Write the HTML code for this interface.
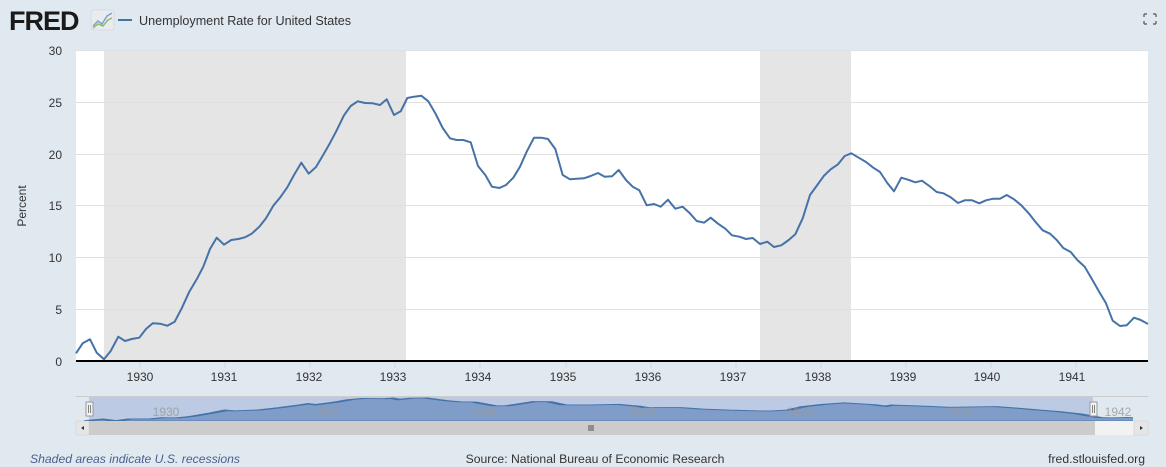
<!DOCTYPE html>
<html><head><meta charset="utf-8"><style>
body{margin:0;width:1166px;height:467px;background:#e1e9f0;font-family:"Liberation Sans",sans-serif;overflow:hidden;position:relative}
svg{position:absolute;left:0;top:0}
</style></head><body>
<svg width="1166" height="467" viewBox="0 0 1166 467" xmlns="http://www.w3.org/2000/svg" font-family="Liberation Sans, sans-serif">
<defs><clipPath id="nc"><rect x="76" y="396" width="1057" height="26"/></clipPath></defs>
<text x="9" y="30" font-size="27" font-weight="bold" fill="#1a1a1a" letter-spacing="-1">FRED</text>
<rect x="91" y="10" width="23" height="20" rx="2" fill="#e8ecef" stroke="#ccc" stroke-width="0.5"/>
<polyline points="93,26 98,21 102,24 107,16 112,13" fill="none" stroke="#7fa0c8" stroke-width="1.5"/>
<polyline points="93,28 98,24 103,26 108,20 112,18" fill="none" stroke="#8cbf6a" stroke-width="1.5"/>
<line x1="118" y1="20" x2="132" y2="20" stroke="#4572a7" stroke-width="2"/>
<text x="139" y="25" font-size="12.6" fill="#333">Unemployment Rate for United States</text>
<g stroke="#555" stroke-width="1.2" fill="none"><path d="M1144 14h3M1144 14v3M1156 14h-3M1156 14v3M1144 24h3M1144 24v-3M1156 24h-3M1156 24v-3"/></g>
<rect x="76" y="50" width="1072" height="311" fill="#fff"/>
<rect x="104" y="50" width="302" height="311" fill="#e5e5e5"/>
<rect x="760" y="50" width="91" height="311" fill="#e5e5e5"/>
<g stroke="#e0e0e0" stroke-width="1"><line x1="76" x2="1148" y1="50.5" y2="50.5"/><line x1="76" x2="1148" y1="102.5" y2="102.5"/><line x1="76" x2="1148" y1="154.5" y2="154.5"/><line x1="76" x2="1148" y1="205.5" y2="205.5"/><line x1="76" x2="1148" y1="257.5" y2="257.5"/><line x1="76" x2="1148" y1="309.5" y2="309.5"/></g>
<g font-size="12" fill="#333" text-anchor="end"><text x="62" y="55">30</text><text x="62" y="107">25</text><text x="62" y="159">20</text><text x="62" y="210">15</text><text x="62" y="262">10</text><text x="62" y="314">5</text><text x="62" y="366">0</text></g>
<text transform="translate(26,206) rotate(-90)" font-size="12" fill="#333" text-anchor="middle">Percent</text>
<polyline fill="none" stroke="#4572a7" stroke-width="2" stroke-linejoin="round" points="76,353.3 82.7,343.3 90,339.3 96.7,352.7 104,359.3 110.7,351 118.3,336.7 125,341 131.7,339 139.3,337.7 146,329 152.7,323.3 160,323.7 167.3,325.7 174.7,321.7 181.7,308.3 189.3,291.7 196.7,279.3 203.3,266.7 210,249 216.7,237.7 224,244.7 231.3,240 238.3,239 245,237.3 251.7,233.7 259.3,226.7 266,218.3 273.3,205.7 280,197.7 287.3,187.3 294,175 301.3,162.7 308.7,173.7 316,167 322.7,155.7 329.3,144.3 336,131.7 344,115.3 350.7,106 357.7,101.3 365,103 372.7,103.3 380,105 386.7,99.3 394,115 400.7,111.3 407.3,98 414,96.7 421.3,95.7 428.3,101.3 435.7,114 442.7,128 450,138.3 456.7,140 463.3,140 470.7,142.3 478,166 485.3,175 492,186.7 499.3,188 506,185 513.3,177.7 520,166.7 526.7,151.7 534,137.7 541.3,137.7 548,139 555.3,149 562.7,175 570,179.3 576.7,178.7 584,178.3 590.7,176 598,173 604.7,176.7 612,176.3 618.7,170 626,180 632.7,186.7 639.3,190.3 646.7,205.3 654,204 660.7,206.7 668,199.7 675.3,208.7 682.7,206.7 689.3,212.7 696.7,221 704,222.7 710.7,217.7 718,223.7 725.3,228.7 732,235.3 739.3,236.7 746,239 752.7,238 760,244 767.3,241.7 774,247 781.3,245.3 788.7,240 795.3,234.3 802.7,218.3 810,195 817.3,185 824,175.7 830.7,169.3 838,164.3 844.7,156 851.3,153.3 858.7,157.7 866,162 873.3,167.7 880,172 887.3,183 894,191.3 901.3,177.7 908,179.7 915.3,182.3 922,180.7 929.3,186 936.7,192 943.3,193.3 950.7,197.3 958,203 964.7,200.3 972,200.3 979.3,203.3 986,200.3 993.3,198.7 1000,198.7 1006.7,195 1014,199.3 1021.3,205.3 1028.7,213.3 1035.3,221.7 1042.7,230.3 1050,233.7 1056.7,240 1063.3,248 1070.7,252 1077.3,260 1084.7,266.7 1092,279.3 1099.3,292 1106,303.3 1112.7,320.7 1120,326 1126.7,325.3 1134,317.7 1140.7,320 1148,324"/>
<line x1="76" x2="1148" y1="361" y2="361" stroke="#000" stroke-width="2"/>
<g stroke="#ccd6eb" stroke-width="1"><line x1="140" x2="140" y1="362" y2="368"/><line x1="225" x2="225" y1="362" y2="368"/><line x1="310" x2="310" y1="362" y2="368"/><line x1="395" x2="395" y1="362" y2="368"/><line x1="480" x2="480" y1="362" y2="368"/><line x1="566" x2="566" y1="362" y2="368"/><line x1="651" x2="651" y1="362" y2="368"/><line x1="736" x2="736" y1="362" y2="368"/><line x1="821" x2="821" y1="362" y2="368"/><line x1="906" x2="906" y1="362" y2="368"/><line x1="991" x2="991" y1="362" y2="368"/><line x1="1076" x2="1076" y1="362" y2="368"/></g>
<g font-size="12" fill="#333" text-anchor="middle"><text x="140" y="381">1930</text><text x="224" y="381">1931</text><text x="309" y="381">1932</text><text x="393" y="381">1933</text><text x="478" y="381">1934</text><text x="563" y="381">1935</text><text x="648" y="381">1936</text><text x="733" y="381">1937</text><text x="818" y="381">1938</text><text x="903" y="381">1939</text><text x="987" y="381">1940</text><text x="1072" y="381">1941</text></g>
<line x1="76" x2="1148" y1="396.5" y2="396.5" stroke="#ccc"/>
<rect x="89" y="397" width="1004" height="24" fill="#bccae3"/>
<g clip-path="url(#nc)"><g transform="matrix(0.974,0,0,0.087,15,389.6)">
<polygon fill="#7f9dc8" stroke="#4572a7" stroke-width="10" points="76,361 76,353.3 90,339.3 104,359.3 118.3,336.7 139.3,337.7 152.7,323.3 167.3,325.7 181.7,308.3 203.3,266.7 216.7,237.7 224,244.7 251.7,233.7 273.3,205.7 294,175 301.3,162.7 308.7,173.7 329.3,144.3 344,115.3 357.7,101.3 380,105 386.7,99.3 394,115 407.3,98 421.3,95.7 442.7,128 456.7,140 470.7,142.3 492,186.7 506,185 534,137.7 548,139 562.7,175 590.7,176 618.7,170 639.3,190.3 646.7,205.3 682.7,206.7 704,222.7 732,235.3 760,244 774,247 795.3,234.3 810,195 830.7,169.3 851.3,153.3 880,172 894,191.3 901.3,177.7 936.7,192 958,203 1006.7,195 1028.7,213.3 1050,233.7 1070.7,252 1092,279.3 1112.7,320.7 1126.7,325.3 1140.7,320 1148,324 1160,330 1170,361"/>
</g></g>
<g font-size="12" fill="#999" text-anchor="middle" opacity="0.8"><text x="166" y="416">1930</text><text x="325" y="416">1932</text><text x="483" y="416">1934</text><text x="642" y="416">1936</text><text x="800" y="416">1938</text><text x="959" y="416">1940</text><text x="1118" y="416">1942</text></g>
<rect x="76" y="421" width="1072" height="14" fill="#f2f2f2"/>
<rect x="89" y="421" width="1006" height="14" fill="#cccccc"/>
<rect x="76" y="421" width="13" height="14" fill="#e6e6e6" stroke="#ccc" stroke-width="0.5"/>
<rect x="1134" y="421" width="14" height="14" fill="#e6e6e6" stroke="#ccc" stroke-width="0.5"/>
<path d="M84 426v4l-3-2z" fill="#333"/><path d="M1140 426v4l3-2z" fill="#333"/>
<path d="M589 425v6M591 425v6M593 425v6" stroke="#333" stroke-width="0.8"/>
<rect x="86" y="402" width="7" height="14" fill="#f2f2f2" stroke="#999" stroke-width="1"/>
<path d="M88.5 405v8M90.5 405v8" stroke="#666" stroke-width="0.8"/>
<rect x="1090" y="402" width="7" height="14" fill="#f2f2f2" stroke="#999" stroke-width="1"/>
<path d="M1092.5 405v8M1094.5 405v8" stroke="#666" stroke-width="0.8"/>
<text x="30" y="463" font-size="12.2" font-style="italic" fill="#4a5f8a">Shaded areas indicate U.S. recessions</text>
<text x="595" y="463" font-size="12.2" fill="#333" text-anchor="middle">Source: National Bureau of Economic Research</text>
<text x="1145" y="463" font-size="12.2" fill="#333" text-anchor="end">fred.stlouisfed.org</text>
</svg>
</body></html>
